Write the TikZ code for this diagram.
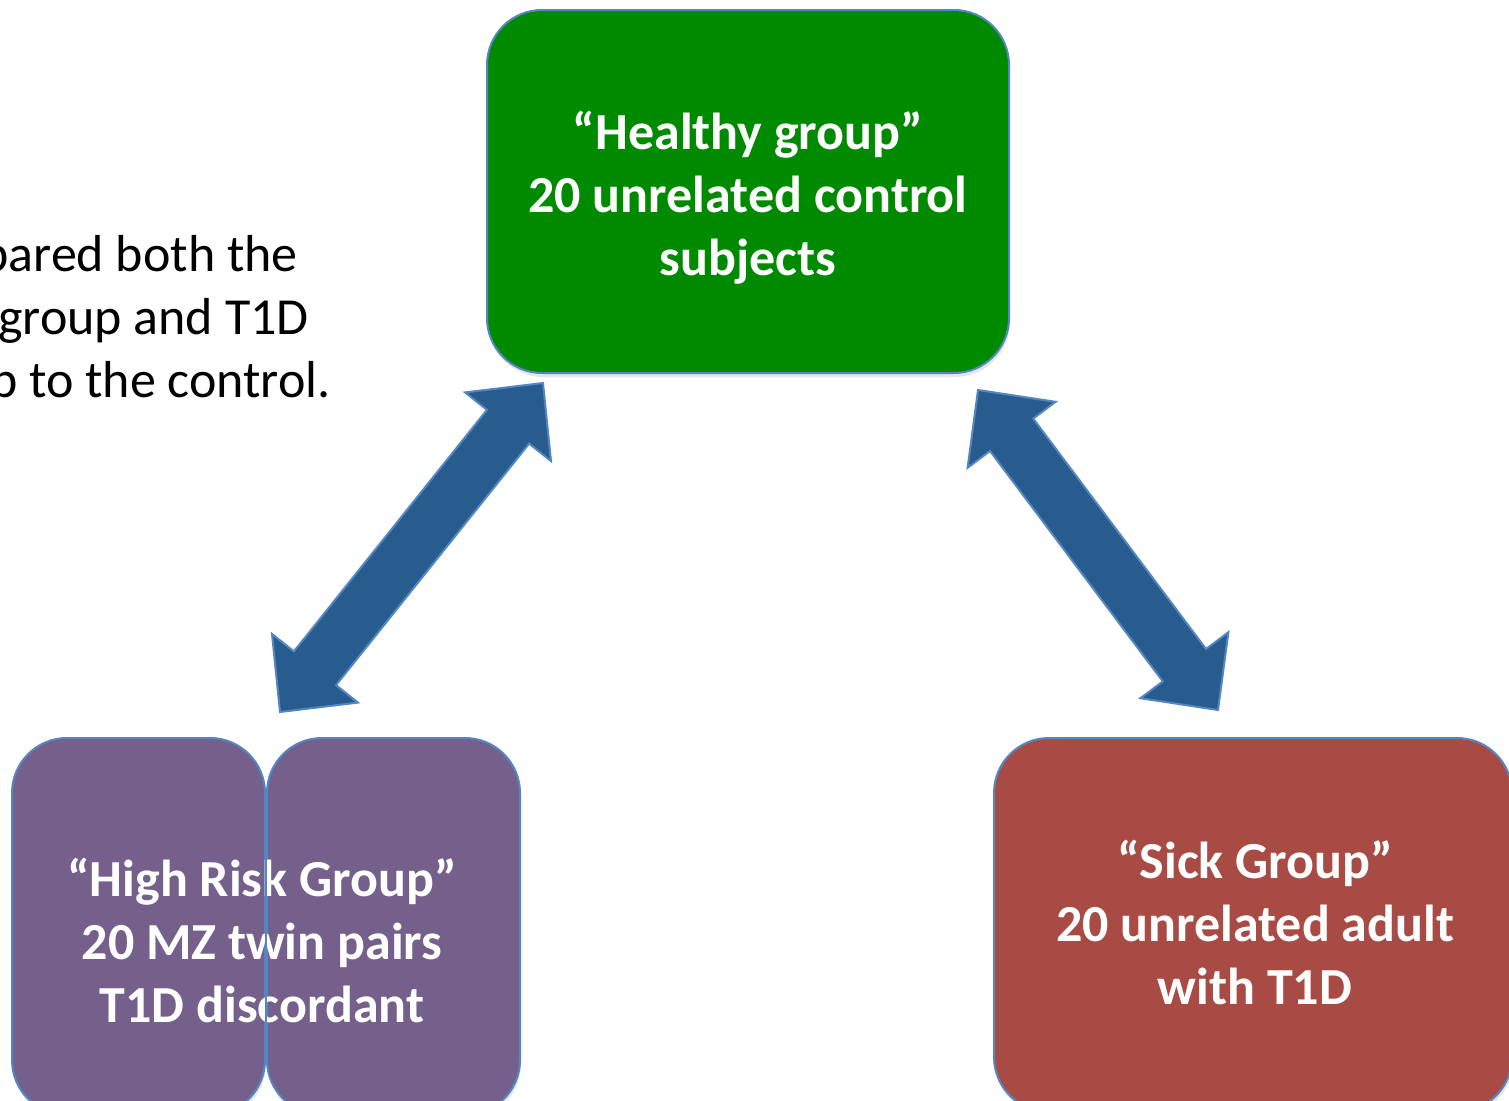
\documentclass[tikz,border=0pt]{standalone}
\usepackage{fontspec}
\setmainfont{Carlito}
\usepackage{tikz}
\usetikzlibrary{calc,positioning,shadows}

\definecolor{healthy}{RGB}{0,138,0}
\definecolor{twin}{RGB}{117,96,139}
\definecolor{sick}{RGB}{168,75,69}
\definecolor{arrowblue}{RGB}{41,92,142}
\definecolor{edgeblue}{RGB}{84,134,194}

% double headed block arrow between two named points
\newcommand{\fatarrow}[2]{%
  \coordinate (#1-h) at ($(#1)!56pt!(#2)$);
  \coordinate (#2-h) at ($(#2)!56pt!(#1)$);
  \draw[fat] (#1)
    -- ($(#1-h)!55pt!90:(#2)$) -- ($(#1-h)!27pt!90:(#2)$)
    -- ($(#2-h)!27pt!-90:(#1)$) -- ($(#2-h)!55pt!-90:(#1)$)
    -- (#2)
    -- ($(#2-h)!55pt!90:(#1)$) -- ($(#2-h)!27pt!90:(#1)$)
    -- ($(#1-h)!27pt!-90:(#2)$) -- ($(#1-h)!55pt!-90:(#2)$)
    -- cycle;}

\begin{document}
\begin{tikzpicture}[x=1pt, y=-1pt,
    grp/.style={draw=edgeblue, line width=2pt, rounded corners=55pt, inner sep=0pt,
      drop shadow={opacity=.2, shadow xshift=1pt, shadow yshift=-4pt}},
    lbl/.style={text=white, align=center, font=\fontsize{52}{63}\selectfont\bfseries},
    note/.style={inner sep=0pt, font=\fontsize{52}{63}\selectfont},
    fat/.style={fill=arrowblue, draw=edgeblue, line width=2pt, line join=miter}
  ]
  \useasboundingbox (0,0) rectangle (1509,1100);
  \clip (0,0) rectangle (1509,1100);
  \fill[white] (0,0) rectangle (1509,1100);

  % text on the left, cut by the page edge
  \node[note, anchor=base east] (cmp1) at (298,271) {pared both the};
  \node[note, anchor=base east] (cmp2) at (309,334) {group and T1D};
  \node[note, anchor=base east] (cmp3) at (331,397) {p to the control.};

  % groups
  \node[grp, fill=healthy, minimum width=522pt, minimum height=363pt] (hc) at (748,191.5) {};
  \node[lbl, yshift=-6pt] (hcText) at (hc) {“Healthy group”\\20 unrelated control\\subjects};
  \node[grp, fill=twin, minimum width=253pt, minimum height=377pt] (hrA) at (138.5,926.5) {};
  \node[grp, fill=twin, minimum width=253pt, minimum height=377pt, right=0pt of hrA] (hrB) {};
  \node[lbl] (hrText) at (262,940) {“High Risk Group”\\20 MZ twin pairs\\T1D discordant};
  \draw[edgeblue, line width=2pt] ([yshift=-55pt]hrB.north west) -- ([yshift=55pt]hrB.south west);
  \node[grp, fill=sick, minimum width=518pt, minimum height=374pt] (sk) at (1253,925) {};
  \node[lbl, yshift=3pt] (skText) at (1255,925) {“Sick Group”\\20 unrelated adult\\with T1D};

  % comparisons
  \coordinate (hrTip) at (280,712);
  \coordinate (hcTipL) at (543,383);
  \coordinate (hcTipR) at (978,390);
  \coordinate (skTip) at (1218,710);
  \fatarrow{hrTip}{hcTipL}
  \fatarrow{hcTipR}{skTip}
\end{tikzpicture}
\end{document}
